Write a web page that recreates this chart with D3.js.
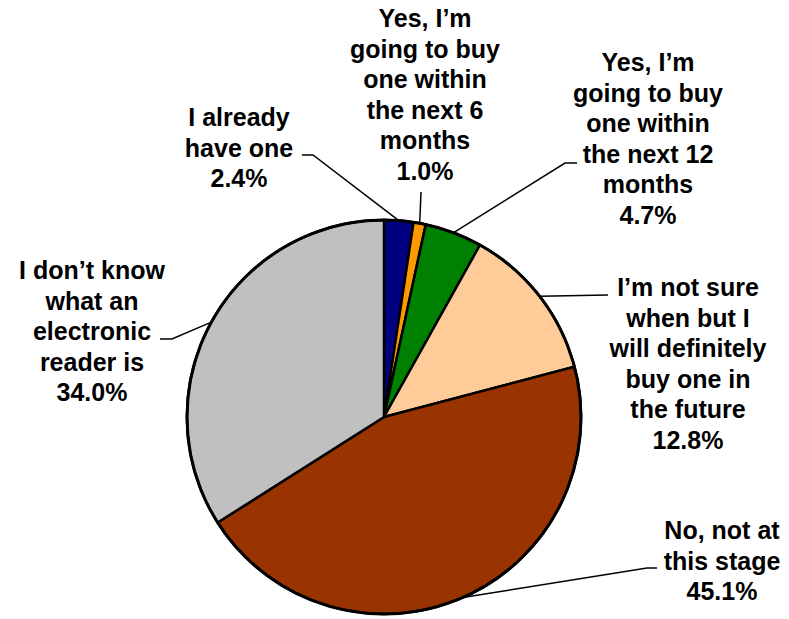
<!DOCTYPE html>
<html>
<head>
<meta charset="utf-8">
<script src="https://cdn.jsdelivr.net/npm/d3@7"></script>
<style>
  html, body { margin: 0; padding: 0; background: #fff; }
  svg { display: block; }
  text { font-family: "Liberation Sans", Arial, sans-serif; font-weight: bold; }
</style>
</head>
<body>
<div class="pieContainer"></div>
<script>
// chart data
const categories = [
  "I already have one",
  "Yes, I’m going to buy one within the next 6 months",
  "Yes, I’m going to buy one within the next 12 months",
  "I’m not sure when but I will definitely buy one in the future",
  "No, not at this stage",
  "I don’t know what an electronic reader is"
];
const values = [2.4, 1.0, 4.7, 12.8, 45.1, 34.0];
const labelLines = [
  ["I already", "have one"],
  ["Yes, I’m", "going to buy", "one within", "the next 6", "months"],
  ["Yes, I’m", "going to buy", "one within", "the next 12", "months"],
  ["I’m not sure", "when but I", "will definitely", "buy one in", "the future"],
  ["No, not at", "this stage"],
  ["I don’t know", "what an", "electronic", "reader is"]
];
const colors = ["#000080", "#FF9900", "#008000", "#FFCC99", "#993300", "#C0C0C0"];

// label layout: text centre x, first line centre y, leader elbow and end
const labelLayout = [
  { cx: 239, y0: 117, elbow: [313, 155], end: [302, 155] },
  { cx: 425, y0: 18,  elbow: null,       end: [421, 192] },
  { cx: 648, y0: 62,  elbow: [565, 163], end: [577, 163] },
  { cx: 688, y0: 287, elbow: null,       end: [608, 295] },
  { cx: 722, y0: 530, elbow: [647, 568], end: [657, 568] },
  { cx: 92,  y0: 270, elbow: [172, 339], end: [160, 339] }
];

const width = 789, height = 619;
const cx = 384, cy = 417, radius = 197;
const fontSize = 25, lineH = 30.5;

const data = values.map((v, i) => ({ name: categories[i], value: v, i: i }));

const pie = d3.pie().sort(null).value(d => d.value);
const arc = d3.arc().innerRadius(0).outerRadius(radius);
const arcs = pie(data);

const svg = d3.select(".pieContainer").append("svg")
  .attr("width", width)
  .attr("height", height);

const g = svg.append("g").attr("transform", `translate(${cx},${cy})`);

g.selectAll("path.slice")
  .data(arcs)
  .join("path")
  .attr("class", "slice")
  .attr("d", arc)
  .attr("fill", d => colors[d.index])
  .attr("stroke", "#000")
  .attr("stroke-width", 2.5)
  .attr("stroke-linejoin", "round");

// outer ring a bit heavier
g.append("circle")
  .attr("r", radius)
  .attr("fill", "none")
  .attr("stroke", "#000")
  .attr("stroke-width", 3);

// leader lines
const line = d3.line();
arcs.forEach(a => {
  const L = labelLayout[a.index];
  const mid = (a.startAngle + a.endAngle) / 2;
  const p0 = [cx + radius * Math.sin(mid), cy - radius * Math.cos(mid)];
  const pts = [p0];
  if (L.elbow) pts.push(L.elbow);
  pts.push(L.end);
  svg.append("path")
    .attr("d", line(pts))
    .attr("fill", "none")
    .attr("stroke", "#000")
    .attr("stroke-width", 1.5);
});

// labels
arcs.forEach(a => {
  const L = labelLayout[a.index];
  const lines = labelLines[a.index].concat([d3.format(".1f")(a.data.value) + "%"]);
  const t = svg.append("text")
    .attr("text-anchor", "middle")
    .attr("font-size", fontSize)
    .attr("fill", "#000");
  lines.forEach((s, k) => {
    t.append("tspan")
      .attr("x", L.cx)
      .attr("y", L.y0 + k * lineH)
      .attr("dy", "0.36em")
      .text(s);
  });
});
</script>
</body>
</html>
